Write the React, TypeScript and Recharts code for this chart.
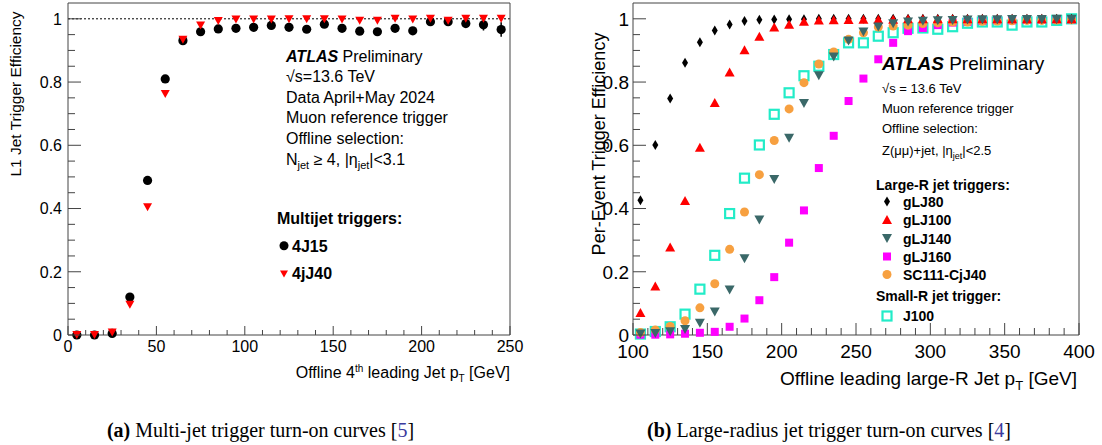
import { ScatterChart, Scatter, XAxis, YAxis, ReferenceLine, ErrorBar } from 'recharts'

const sans = '"Liberation Sans", Arial, Helvetica, sans-serif'
const serif = '"Liberation Serif", "Times New Roman", serif'

// ---- (a) multi-jet turn-on: 4th leading jet pT bins [GeV]
const ptBinsA = [5, 15, 25, 35, 45, 55, 65, 75, 85, 95, 105, 115, 125, 135, 145, 155, 165, 175, 185, 195, 205, 215, 225, 235, 245]
const eff4J15 = [0, 0, 0.005, 0.12, 0.489, 0.81, 0.931, 0.959, 0.968, 0.97, 0.973, 0.979, 0.973, 0.967, 0.983, 0.97, 0.961, 0.959, 0.97, 0.962, 0.991, 0.991, 0.985, 0.981, 0.966]
const err4J15 = [0, 0, 0, 0, 0, 0, 0, 0, 0, 0, 0, 0, 0, 0, 0, 0, 0, 0, 0, 0.004, 0.005, 0.006, 0.012, 0.018, 0.023]
const eff4jJ40 = [0, 0, 0.008, 0.096, 0.404, 0.762, 0.934, 0.979, 0.993, 0.998, 0.998, 0.998, 0.999, 0.999, 0.999, 0.998, 0.994, 0.994, 1.0, 0.998, 1.0, 0.994, 1.0, 1.0, 1.0]

// ---- (b) large-R jet turn-on: leading large-R jet pT bins [GeV]
const ptBinsB = [105, 115, 125, 135, 145, 155, 165, 175, 185, 195, 205, 215, 225, 235, 245, 255, 265, 275, 285, 295, 305, 315, 325, 335, 345, 355, 365, 375, 385, 395]
const effGLJ80 = [0.426, 0.601, 0.748, 0.861, 0.926, 0.963, 0.982, 0.993, 0.997, 0.998, 0.999, 0.999, 1.0, 1.0, 1.0, 1.0, 1.0, 1.0, 1.0, 1.0, 1.0, 1.0, 1.0, 1.0, 1.0, 1.0, 1.0, 1.0, 1.0, 1.0]
const effGLJ100 = [0.071, 0.155, 0.278, 0.425, 0.594, 0.735, 0.832, 0.902, 0.945, 0.974, 0.983, 0.992, 0.996, 0.997, 0.998, 0.999, 0.999, 0.999, 1.0, 1.0, 1.0, 1.0, 1.0, 1.0, 1.0, 1.0, 1.0, 1.0, 1.0, 1.0]
const effGLJ140 = [0.003, 0.005, 0.01, 0.017, 0.037, 0.073, 0.142, 0.241, 0.364, 0.492, 0.622, 0.732, 0.82, 0.879, 0.93, 0.958, 0.974, 0.984, 0.99, 0.992, 0.994, 0.995, 0.996, 0.997, 0.997, 0.998, 0.998, 0.998, 0.999, 0.999]
const effGLJ160 = [0.001, 0.001, 0.002, 0.004, 0.007, 0.01, 0.026, 0.052, 0.11, 0.183, 0.292, 0.394, 0.528, 0.63, 0.74, 0.811, 0.872, 0.924, 0.961, 0.971, 0.98, 0.988, 0.99, 0.993, 0.995, 0.995, 0.996, 0.997, 0.998, 0.998]
const effSC111 = [0.008, 0.016, 0.027, 0.045, 0.086, 0.162, 0.271, 0.389, 0.507, 0.615, 0.715, 0.798, 0.857, 0.895, 0.935, 0.956, 0.974, 0.977, 0.98, 0.985, 0.987, 0.99, 0.99, 0.992, 0.993, 0.994, 0.995, 0.995, 0.996, 0.997]
const effJ100 = [0.003, 0.011, 0.026, 0.066, 0.145, 0.252, 0.384, 0.496, 0.601, 0.698, 0.766, 0.82, 0.85, 0.887, 0.924, 0.924, 0.945, 0.956, 0.97, 0.971, 0.967, 0.975, 0.986, 0.99, 0.99, 0.98, 0.99, 0.99, 0.995, 1.0]

const toPoints = (xs: number[], ys: number[], errs?: number[]) =>
  xs.map((x, i) => ({ x, y: ys[i], err: errs ? errs[i] : 0 }))

const ticksA_x = Array.from({ length: 26 }, (_, i) => i * 10)
const ticksB_x = Array.from({ length: 31 }, (_, i) => 100 + i * 10)
const ticks_y = Array.from({ length: 21 }, (_, i) => Math.round(i * 5) / 100)

const fmt = (v: number) => String(Math.round(v * 10) / 10)

function AxisTick(props: any) {
  const { x, y, payload, side, major, longLen, shortLen, fontSize, showLabel, gap } = props
  const v = payload.value
  const isMajor = Math.abs(v / major - Math.round(v / major)) < 1e-6
  const len = isMajor ? longLen : shortLen
  const st = { stroke: '#444', strokeWidth: 1 }
  let line = null
  let label = null
  if (side === 'bottom') {
    line = <line x1={x} y1={y} x2={x} y2={y - len} {...st} />
    if (showLabel && isMajor)
      label = <text x={x} y={y + gap} textAnchor="middle" fontSize={fontSize} fontFamily={sans} fill="#000">{fmt(v)}</text>
  } else if (side === 'top') {
    line = <line x1={x} y1={y} x2={x} y2={y + len} {...st} />
  } else if (side === 'left') {
    line = <line x1={x} y1={y} x2={x + len} y2={y} {...st} />
    if (showLabel && isMajor)
      label = <text x={x - gap} y={y + fontSize * 0.36} textAnchor="end" fontSize={fontSize} fontFamily={sans} fill="#000">{fmt(v)}</text>
  } else {
    line = <line x1={x} y1={y} x2={x - len} y2={y} {...st} />
  }
  return <g>{line}{label}</g>
}

// marker shapes
const Circle = ({ cx, cy, r, fill }: any) => <circle cx={cx} cy={cy} r={r} fill={fill} />
const TriDown = ({ cx, cy, w, h, fill }: any) => (
  <path d={`M${cx - w / 2},${cy - h / 2}L${cx + w / 2},${cy - h / 2}L${cx},${cy + h / 2}Z`} fill={fill} />
)
const TriUp = ({ cx, cy, w, h, fill }: any) => (
  <path d={`M${cx - w / 2},${cy + h / 2}L${cx + w / 2},${cy + h / 2}L${cx},${cy - h / 2}Z`} fill={fill} />
)
const Diamond = ({ cx, cy, w, h, fill }: any) => (
  <path d={`M${cx},${cy - h / 2}L${cx + w / 2},${cy}L${cx},${cy + h / 2}L${cx - w / 2},${cy}Z`} fill={fill} />
)
const Square = ({ cx, cy, s, fill }: any) => <rect x={cx - s / 2} y={cy - s / 2} width={s} height={s} fill={fill} />
const OpenSquare = ({ cx, cy, s, stroke }: any) => (
  <rect x={cx - s / 2} y={cy - s / 2} width={s} height={s} fill="none" stroke={stroke} strokeWidth={2.2} />
)

const RED = '#ff0000'
const TEAL = '#3a6868'
const MAGENTA = '#ff00ff'
const ORANGE = '#f7a040'
const CYAN = '#22ecc8'

function Axes({ ticksX, domainX, fontSize, gapX, gapY, xLong, xShort }: any) {
  return [
    <XAxis key="xb" xAxisId={0} type="number" dataKey="x" domain={domainX} ticks={ticksX} interval={0}
      height={1} tickSize={0} tickMargin={0} tickLine={false} axisLine={{ stroke: '#444' }}
      tick={<AxisTick side="bottom" major={50} longLen={xLong} shortLen={xShort} fontSize={fontSize} showLabel gap={gapX} />} />,
    <XAxis key="xt" xAxisId="t" orientation="top" type="number" domain={domainX} ticks={ticksX} interval={0}
      height={1} tickSize={0} tickMargin={0} tickLine={false} axisLine={{ stroke: '#444' }}
      tick={<AxisTick side="top" major={50} longLen={xLong} shortLen={xShort} />} />,
    <YAxis key="yl" yAxisId={0} type="number" dataKey="y" domain={[0, 1.05]} ticks={ticks_y} interval={0}
      width={1} tickSize={0} tickMargin={0} tickLine={false} axisLine={{ stroke: '#444' }}
      tick={<AxisTick side="left" major={0.2} longLen={13} shortLen={7} fontSize={fontSize} showLabel gap={gapY} />} />,
    <YAxis key="yr" yAxisId="r" orientation="right" type="number" domain={[0, 1.05]} ticks={ticks_y} interval={0}
      width={1} tickSize={0} tickMargin={0} tickLine={false} axisLine={{ stroke: '#444' }}
      tick={<AxisTick side="right" major={0.2} longLen={13} shortLen={7} />} />,
  ]
}

function ChartA() {
  return (
    <ScatterChart width={540} height={445} margin={{ top: 2, right: 29, bottom: 109, left: 67 }}>
      {Axes({ ticksX: ticksA_x, domainX: [0, 250], fontSize: 16, gapX: 17, gapY: 6, xLong: 9, xShort: 5 })}
      <ReferenceLine y={1} stroke="#000" strokeDasharray="2 2" strokeWidth={1} />
      <Scatter data={toPoints(ptBinsA, eff4J15, err4J15)} isAnimationActive={false}
        shape={(p: any) => <Circle cx={p.cx} cy={p.cy} r={4.6} fill="#000" />}>
        <ErrorBar dataKey="err" direction="y" width={0} stroke="#000" strokeWidth={1.5} />
      </Scatter>
      <Scatter data={toPoints(ptBinsA, eff4jJ40)} isAnimationActive={false}
        shape={(p: any) => <TriDown cx={p.cx} cy={p.cy} w={9} h={8} fill={RED} />} />
    </ScatterChart>
  )
}

function ChartB() {
  return (
    <ScatterChart width={542} height={445} margin={{ top: 2, right: 22, bottom: 109, left: 72 }}>
      {Axes({ ticksX: ticksB_x, domainX: [100, 400], fontSize: 19, gapX: 22.5, gapY: 4, xLong: 12, xShort: 7 })}
      <Scatter data={toPoints(ptBinsB, effJ100)} isAnimationActive={false}
        shape={(p: any) => <OpenSquare cx={p.cx} cy={p.cy} s={9} stroke={CYAN} />} />
      <Scatter data={toPoints(ptBinsB, effGLJ160)} isAnimationActive={false}
        shape={(p: any) => <Square cx={p.cx} cy={p.cy} s={8} fill={MAGENTA} />} />
      <Scatter data={toPoints(ptBinsB, effSC111)} isAnimationActive={false}
        shape={(p: any) => <Circle cx={p.cx} cy={p.cy} r={4.5} fill={ORANGE} />} />
      <Scatter data={toPoints(ptBinsB, effGLJ80)} isAnimationActive={false}
        shape={(p: any) => <Diamond cx={p.cx} cy={p.cy} w={6} h={10} fill="#000" />} />
      <Scatter data={toPoints(ptBinsB, effGLJ100)} isAnimationActive={false}
        shape={(p: any) => <TriUp cx={p.cx} cy={p.cy} w={10} h={9} fill={RED} />} />
      <Scatter data={toPoints(ptBinsB, effGLJ140)} isAnimationActive={false}
        shape={(p: any) => <TriDown cx={p.cx} cy={p.cy} w={10} h={9} fill={TEAL} />} />
    </ScatterChart>
  )
}

function Overlay() {
  const t = (x: number, y: number, size: number, children: any, extra: any = {}) => (
    <text x={x} y={y} fontSize={size} fontFamily={sans} fill="#000" {...extra}>{children}</text>
  )
  return (
    <svg width={1102} height={445} style={{ position: 'absolute', left: 0, top: 0, pointerEvents: 'none' }}>
      {/* (a) labels */}
      <text transform="translate(21,94) rotate(-90)" textAnchor="middle" fontSize={15.5} fontFamily={sans}>L1 Jet Trigger Efficiency</text>
      {t(510, 378, 16, <>Offline 4<tspan dy={-6} fontSize={10}>th</tspan><tspan dy={6}> leading Jet p</tspan><tspan dy={4} fontSize={10}>T</tspan><tspan dy={-4}> [GeV]</tspan></>, { textAnchor: 'end' })}
      {t(286, 62, 16, <><tspan fontWeight="bold" fontStyle="italic">ATLAS</tspan> Preliminary</>)}
      {t(286, 82, 16, '√s=13.6 TeV')}
      {t(286, 102.7, 16, 'Data April+May 2024')}
      {t(286, 123.3, 16, 'Muon reference trigger')}
      {t(286, 144.3, 16, 'Offline selection:')}
      {t(286, 165, 16, <>N<tspan dy={4} fontSize={11}>jet</tspan><tspan dy={-4}> ≥ 4, |η</tspan><tspan dy={4} fontSize={11}>jet</tspan><tspan dy={-4}>|&lt;3.1</tspan></>)}
      {t(277, 224.3, 16, 'Multijet triggers:', { fontWeight: 'bold' })}
      <Circle cx={284} cy={245.7} r={4.5} fill="#000" />
      {t(292, 251.7, 16, '4J15', { fontWeight: 'bold' })}
      <TriDown cx={284} cy={274} w={8} h={7} fill={RED} />
      {t(292, 279, 16, '4jJ40', { fontWeight: 'bold' })}

      {/* (b) labels */}
      <text transform="translate(605,144) rotate(-90)" textAnchor="middle" fontSize={18} fontFamily={sans}>Per-Event Trigger Efficiency</text>
      {t(1077, 385, 19, <>Offline leading large-R Jet p<tspan dy={5} fontSize={13}>T</tspan><tspan dy={-5}> [GeV]</tspan></>, { textAnchor: 'end' })}
      {t(882, 70, 19, <><tspan fontWeight="bold" fontStyle="italic">ATLAS</tspan> Preliminary</>)}
      {t(882, 92.7, 13, '√s = 13.6 TeV')}
      {t(882, 113.3, 13, 'Muon reference trigger')}
      {t(882, 133.3, 13, 'Offline selection:')}
      {t(882, 155, 13, <>Z(μμ)+jet, |η<tspan dy={4} fontSize={9}>jet</tspan><tspan dy={-4}>|&lt;2.5</tspan></>)}
      {t(876, 190, 14, 'Large-R jet triggers:', { fontWeight: 'bold' })}
      <Diamond cx={887} cy={201.5} w={6} h={10} fill="#000" />
      {t(903, 206.5, 14, 'gLJ80', { fontWeight: 'bold' })}
      <TriUp cx={887} cy={219.5} w={10} h={9} fill={RED} />
      {t(903, 224.5, 14, 'gLJ100', { fontWeight: 'bold' })}
      <TriDown cx={887} cy={238.5} w={10} h={9} fill={TEAL} />
      {t(903, 243.5, 14, 'gLJ140', { fontWeight: 'bold' })}
      <Square cx={887} cy={256.5} s={8} fill={MAGENTA} />
      {t(903, 261.5, 14, 'gLJ160', { fontWeight: 'bold' })}
      <Circle cx={887} cy={274.5} r={4.5} fill={ORANGE} />
      {t(903, 279.5, 14, 'SC111-CjJ40', { fontWeight: 'bold' })}
      {t(876, 300.5, 14, 'Small-R jet trigger:', { fontWeight: 'bold' })}
      <OpenSquare cx={887} cy={316} s={9} stroke={CYAN} />
      {t(903, 321, 14, 'J100', { fontWeight: 'bold' })}

      {/* captions */}
      <text x={260.5} y={437} textAnchor="middle" fontSize={20} fontFamily={serif}>
        <tspan fontWeight="bold">(a)</tspan> Multi-jet trigger turn-on curves [<tspan fill="#3b3b9e">5</tspan>]
      </text>
      <text x={829} y={437} textAnchor="middle" fontSize={20} fontFamily={serif}>
        <tspan fontWeight="bold">(b)</tspan> Large-radius jet trigger turn-on curves [<tspan fill="#3b3b9e">4</tspan>]
      </text>
    </svg>
  )
}

export default function App() {
  return (
    <div style={{ position: 'absolute', left: 0, top: 0, width: 1102, height: 445, background: '#fff' }}>
      <div style={{ position: 'absolute', left: 0, top: 0 }}>
        <ChartA />
      </div>
      <div style={{ position: 'absolute', left: 560, top: 0 }}>
        <ChartB />
      </div>
      <Overlay />
    </div>
  )
}
